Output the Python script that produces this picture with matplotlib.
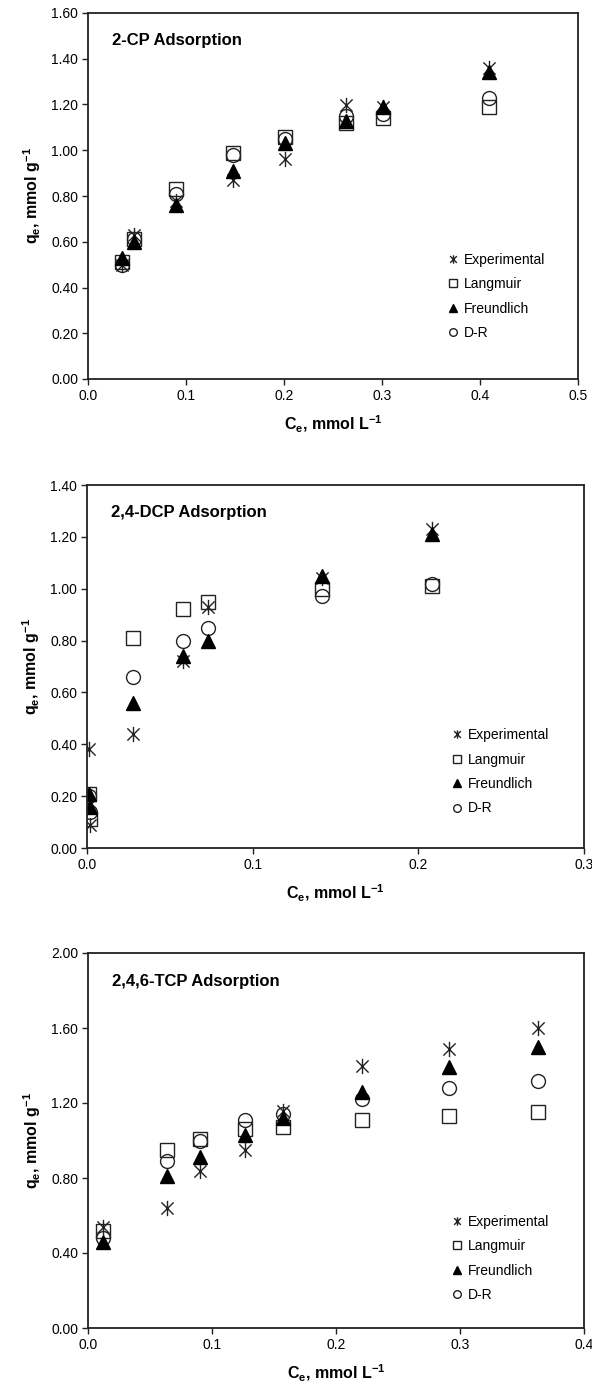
import matplotlib
matplotlib.use("Agg")
import matplotlib.pyplot as plt
from matplotlib.path import Path

plt.rcParams['font.family'] = ['Liberation Sans', 'DejaVu Sans']
plt.rcParams['mathtext.fontset'] = 'custom'
plt.rcParams['mathtext.rm'] = 'Liberation Sans'
plt.rcParams['mathtext.bf'] = 'Liberation Sans:bold'
plt.rcParams['mathtext.default'] = 'bf'

# ---- data: 2-CP ----
cp_ce = [0.035, 0.047, 0.090, 0.148, 0.201, 0.263, 0.301, 0.409]
cp_exp = [0.50, 0.63, 0.78, 0.87, 0.96, 1.20, 1.19, 1.36]
cp_lang = [0.51, 0.61, 0.83, 0.99, 1.06, 1.12, 1.14, 1.19]
cp_freu = [0.53, 0.60, 0.76, 0.91, 1.03, 1.13, 1.19, 1.34]
cp_dr = [0.50, 0.61, 0.81, 0.98, 1.05, 1.15, 1.16, 1.23]

# ---- data: 2,4-DCP ----
dcp_ce = [0.001, 0.002, 0.028, 0.058, 0.073, 0.142, 0.208]
dcp_exp = [0.38, 0.09, 0.44, 0.72, 0.93, 1.04, 1.23]
dcp_lang = [0.21, 0.11, 0.81, 0.92, 0.95, 1.00, 1.01]
dcp_freu = [0.21, 0.16, 0.56, 0.74, 0.80, 1.05, 1.21]
dcp_dr = [0.20, 0.14, 0.66, 0.80, 0.85, 0.97, 1.02]

# ---- data: 2,4,6-TCP ----
tcp_ce = [0.012, 0.064, 0.090, 0.127, 0.157, 0.221, 0.291, 0.363]
tcp_exp = [0.54, 0.64, 0.84, 0.95, 1.16, 1.40, 1.49, 1.60]
tcp_lang = [0.52, 0.95, 1.01, 1.06, 1.07, 1.11, 1.13, 1.15]
tcp_freu = [0.46, 0.81, 0.91, 1.03, 1.12, 1.26, 1.39, 1.50]
tcp_dr = [0.48, 0.89, 1.00, 1.11, 1.14, 1.22, 1.28, 1.32]

# asterisk without the horizontal bar
star = Path([(0, -1), (0, 1), (-0.8, -0.8), (0.8, 0.8), (-0.8, 0.8), (0.8, -0.8)],
            [Path.MOVETO, Path.LINETO, Path.MOVETO, Path.LINETO, Path.MOVETO, Path.LINETO])

edge = '#222222'


def panel(ax, ce, exp, lang, freu, dr, title, xmax, ymax, ystep, xstep, leg_y):
    ax.plot(ce, exp, ls='none', marker=star, ms=11, mew=1.0, color=edge, label='Experimental')
    ax.plot(ce, lang, ls='none', marker='s', ms=10, mew=1.0, mfc='none', mec=edge, label='Langmuir')
    ax.plot(ce, dr, ls='none', marker='o', ms=10, mew=1.0, mfc='none', mec=edge, label='D-R')
    ax.plot(ce, freu, ls='none', marker='^', ms=10, mew=1.0, color='black', label='Freundlich')

    ax.set_xlim(0, xmax)
    ax.set_ylim(0, ymax)
    nx = int(round(xmax / xstep))
    ny = int(round(ymax / ystep))
    ax.set_xticks([i * xstep for i in range(nx + 1)])
    ax.set_yticks([i * ystep for i in range(ny + 1)])
    ax.set_xticklabels(['%.1f' % (i * xstep) for i in range(nx + 1)])
    ax.set_yticklabels(['%.2f' % (i * ystep) for i in range(ny + 1)])
    ax.tick_params(direction='out', length=4, width=1.0, labelsize=10, color='#222222', pad=3)
    for s in ax.spines.values():
        s.set_linewidth(1.3)
        s.set_color('#222222')

    ax.text(0.048, 0.925, title, transform=ax.transAxes, fontsize=12, fontweight='bold',
            va='center', ha='left')
    ax.set_xlabel(r'C$_e$, mmol L$^{-1}$', fontsize=11.5, fontweight='bold', labelpad=8)
    ax.set_ylabel(r'q$_e$, mmol g$^{-1}$', fontsize=11.5, fontweight='bold', labelpad=6)

    h, l = ax.get_legend_handles_labels()
    order = [0, 1, 3, 2]
    ax.legend([h[i] for i in order], [l[i] for i in order], loc='upper left',
              bbox_to_anchor=(0.733, leg_y), frameon=False, fontsize=10,
              markerscale=0.55, handlelength=0.8, handletextpad=0.4,
              labelspacing=0.75, borderpad=0, borderaxespad=0)


fig = plt.figure(figsize=(5.92, 13.85), dpi=100)
W, H = 592.0, 1385.0


def add_axes(left, right, top, bottom):
    return fig.add_axes([left / W, 1 - bottom / H, (right - left) / W, (bottom - top) / H])


ax1 = add_axes(88, 578, 13, 379)
ax2 = add_axes(87, 584, 485, 848)
ax3 = add_axes(88, 584, 953, 1328)

panel(ax1, cp_ce, cp_exp, cp_lang, cp_freu, cp_dr, '2-CP Adsorption', 0.5, 1.6, 0.2, 0.1, 0.345)
panel(ax2, dcp_ce, dcp_exp, dcp_lang, dcp_freu, dcp_dr, '2,4-DCP Adsorption', 0.3, 1.4, 0.2, 0.1, 0.33)
panel(ax3, tcp_ce, tcp_exp, tcp_lang, tcp_freu, tcp_dr, '2,4,6-TCP Adsorption', 0.4, 2.0, 0.4, 0.1, 0.302)

fig.savefig('out.png', dpi=100)
